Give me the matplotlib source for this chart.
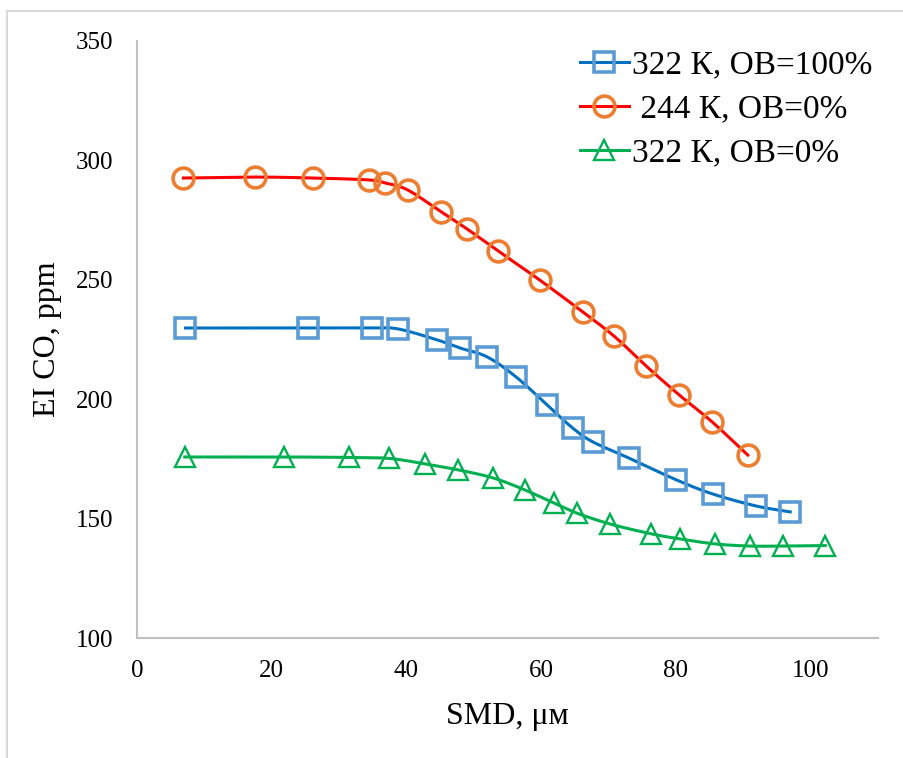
import numpy as np
import matplotlib
matplotlib.use("Agg")
import matplotlib.pyplot as plt
from matplotlib.patches import Rectangle

plt.rcParams['font.family'] = ['Liberation Serif', 'DejaVu Serif']

# 322 K, OB=100%
x_blue = [7.2, 25.4, 34.9, 38.8, 44.6, 48.0, 52.0, 56.3, 60.9, 64.7, 67.7, 73.0, 80.1, 85.5, 91.9, 97.0]
y_blue = [229.8, 229.8, 229.8, 229.4, 224.8, 221.4, 217.7, 209.3, 197.6, 187.9, 182.1, 175.4, 166.2, 160.3, 155.3, 152.8]

# 244 K, OB=0%
x_red = [6.9, 17.6, 26.1, 34.4, 36.9, 40.2, 45.2, 49.0, 53.6, 59.8, 66.2, 70.8, 75.6, 80.5, 85.4, 90.7]
y_red = [292.6, 293.0, 292.6, 291.8, 290.5, 287.6, 278.4, 271.3, 262.1, 249.9, 236.5, 226.5, 213.9, 201.8, 190.5, 176.6]

# 322 K, OB=0%
x_green = [7.1, 21.9, 31.5, 37.4, 42.8, 47.7, 52.9, 57.6, 61.9, 65.3, 70.3, 76.4, 80.6, 85.8, 91.0, 96.0, 102.2]
y_green = [175.8, 175.8, 175.6, 175.2, 172.9, 170.4, 167.0, 162.0, 156.5, 152.3, 147.7, 143.6, 141.5, 139.4, 138.5, 138.5, 138.7]

labels = ["322 К, OB=100%", " 244 К, OB=0%", "322 К, OB=0%"]


def smooth(xs, ys, n=20):
    # Catmull-Rom style smoothing, like Excel's smoothed line
    xs = np.asarray(xs, float)
    ys = np.asarray(ys, float)
    px = np.concatenate([[xs[0]], xs, [xs[-1]]])
    py = np.concatenate([[ys[0]], ys, [ys[-1]]])
    ox, oy = [], []
    t = np.linspace(0, 1, n, endpoint=False)
    for i in range(1, len(px) - 2):
        for arr, out in ((px, ox), (py, oy)):
            p0, p1, p2, p3 = arr[i - 1], arr[i], arr[i + 1], arr[i + 2]
            out.extend(0.5 * ((2 * p1) + (-p0 + p2) * t
                              + (2 * p0 - 5 * p1 + 4 * p2 - p3) * t ** 2
                              + (-p0 + 3 * p1 - 3 * p2 + p3) * t ** 3))
    ox.append(xs[-1])
    oy.append(ys[-1])
    return ox, oy


fig = plt.figure(figsize=(9.04, 7.58), dpi=100)
ax = fig.add_axes([0.1515, 0.1583, 0.8195, 0.7877])

series = [
    (x_blue, y_blue, '#0070C0', '#5B9BD5', 's', 14, 2.6),
    (x_red, y_red, '#FF0000', '#ED7D31', 'o', 15, 2.6),
    (x_green, y_green, '#00B050', '#00B050', '^', 14, 1.7),
]
for (xs, ys, lc, mc, mk, ms, mew), lab in zip(series, labels):
    sx, sy = smooth(xs, ys)
    ax.plot(sx, sy, color=lc, lw=2.2, zorder=2)
    ax.plot(xs, ys, ls='none', marker=mk, ms=ms, mfc='none', mec=mc, mew=mew, zorder=3)
    ax.plot([], [], color=lc, lw=2.2, marker=mk, ms=ms, mfc='none', mec=mc, mew=mew, label=lab)

ax.set_xlim(0, 110)
ax.set_ylim(100, 350)
ax.set_xticks([0, 20, 40, 60, 80, 100])
ax.set_yticks([100, 150, 200, 250, 300, 350])
ax.tick_params(length=0, labelsize=18)
ax.tick_params(axis='y', pad=17)
ax.tick_params(axis='x', pad=16)
for s in ['top', 'right']:
    ax.spines[s].set_visible(False)
for s in ['left', 'bottom']:
    ax.spines[s].set_color('#BFBFBF')
    ax.spines[s].set_linewidth(1.5)

ax.set_xlabel("SMD, μм", fontsize=23, labelpad=14)
ax.set_ylabel("EI CO, ppm", fontsize=23, labelpad=10)

ax.legend(loc='upper right', bbox_to_anchor=(1.033, 1.035), frameon=False, fontsize=24,
          handlelength=1.45, handletextpad=0.1, labelspacing=0.4)

fig.add_artist(Rectangle((7 / 904, -0.1), 1.2, 1 - 11 / 758 + 0.1, transform=fig.transFigure,
                         fill=False, ec='#D9D9D9', lw=1.5))

fig.savefig("out.png", dpi=100)
